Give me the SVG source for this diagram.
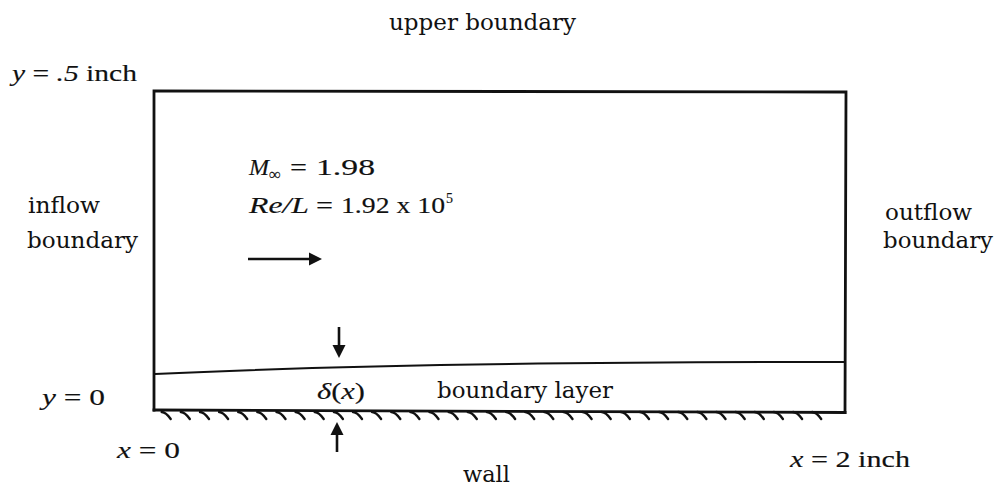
<svg xmlns="http://www.w3.org/2000/svg" width="1005" height="491" viewBox="0 0 1005 491">
<style>
.lbl{font-family:"DejaVu Serif","Liberation Serif",serif;font-size:21.5px;fill:#111}
.math{font-family:"Liberation Serif","DejaVu Serif",serif;font-size:24px;fill:#111;stroke:#111;stroke-width:0.15}
.it{font-style:italic}
.ln{fill:none;stroke:#111;stroke-width:2.8;stroke-linecap:square}
.thin{fill:none;stroke:#111;stroke-width:2}
.tick{fill:none;stroke:#111;stroke-width:2.4;stroke-linecap:round}
.arr{fill:none;stroke:#111;stroke-width:2.6}
</style>
<defs>
<marker id="head" markerUnits="userSpaceOnUse" markerWidth="14" markerHeight="14" refX="0" refY="7" orient="auto">
<path d="M0,0.5 L13,7 L0,13.5 Z" fill="#111"/>
</marker>
<path id="tk" d="M-5,412 Q-1,412 4,419" class="tick"/>
</defs>
<rect width="1005" height="491" fill="#fff"/>

<g id="domain">
<path class="ln" d="M154,410 L154,91 L846,92 L845,412.5"/>
</g>

<g id="boundary-layer">
<path class="thin" d="M155,374 C300,367 500,362 845,362"/>
</g>

<g id="wall">
<path class="ln" d="M154,410 L845,412.5"/>
<g id="hatch">
<use href="#tk" x="166.7"/><use href="#tk" x="185.8"/><use href="#tk" x="205"/><use href="#tk" x="224.1"/><use href="#tk" x="243.2"/>
<use href="#tk" x="262.3"/><use href="#tk" x="281.5"/><use href="#tk" x="300.6"/><use href="#tk" x="319.7"/><use href="#tk" x="338.9"/>
<use href="#tk" x="358"/><use href="#tk" x="377.1"/><use href="#tk" x="396.3"/><use href="#tk" x="415.4"/><use href="#tk" x="434.5"/>
<use href="#tk" x="453.7"/><use href="#tk" x="472.8"/><use href="#tk" x="491.9"/><use href="#tk" x="511.1"/><use href="#tk" x="530.2"/>
<use href="#tk" x="549.3"/><use href="#tk" x="568.5"/><use href="#tk" x="587.6"/><use href="#tk" x="606.7"/><use href="#tk" x="625.9"/>
<use href="#tk" x="645"/><use href="#tk" x="664.1"/><use href="#tk" x="683.3"/><use href="#tk" x="702.4"/><use href="#tk" x="721.5"/>
<use href="#tk" x="740.7"/><use href="#tk" x="759.8"/><use href="#tk" x="778.9"/><use href="#tk" x="798.1"/><use href="#tk" x="817.2"/>
</g>
</g>

<g id="connectors">
<line class="arr" x1="248" y1="259" x2="309" y2="259" marker-end="url(#head)"/>
<line class="arr" x1="339" y1="327" x2="339" y2="345" marker-end="url(#head)"/>
<line class="arr" x1="337" y1="452" x2="337" y2="435" marker-end="url(#head)"/>
</g>

<g id="labels">
<text class="lbl" x="389" y="30" textLength="187" lengthAdjust="spacingAndGlyphs">upper boundary</text>
<text class="lbl" x="28" y="213" textLength="72" lengthAdjust="spacingAndGlyphs">inflow</text>
<text class="lbl" x="27" y="248" textLength="111" lengthAdjust="spacingAndGlyphs">boundary</text>
<text class="lbl" x="885" y="220" textLength="87" lengthAdjust="spacingAndGlyphs">outflow</text>
<text class="lbl" x="883" y="248" textLength="110" lengthAdjust="spacingAndGlyphs">boundary</text>
<text class="lbl" x="437" y="398" textLength="176" lengthAdjust="spacingAndGlyphs">boundary layer</text>
<text class="lbl" x="463" y="482" textLength="47" lengthAdjust="spacingAndGlyphs">wall</text>
</g>

<g id="math">
<text class="math" x="12" y="81" textLength="125" lengthAdjust="spacingAndGlyphs"><tspan class="it">y</tspan> = <tspan class="it">.5</tspan> inch</text>
<text class="math" x="42" y="405" textLength="63" lengthAdjust="spacingAndGlyphs"><tspan class="it">y</tspan> = 0</text>
<text class="math" x="117" y="458" textLength="63" lengthAdjust="spacingAndGlyphs"><tspan class="it">x</tspan> = 0</text>
<text class="math" x="790" y="467" textLength="120" lengthAdjust="spacingAndGlyphs"><tspan class="it">x</tspan> = 2 inch</text>
<text class="math" x="317" y="399" textLength="48" lengthAdjust="spacingAndGlyphs"><tspan class="it">δ</tspan>(<tspan class="it">x</tspan>)</text>
<text class="math it" x="249" y="175">M</text>
<text class="math" x="269" y="180" style="font-size:17px">∞</text>
<text class="math" x="290" y="175" textLength="17" lengthAdjust="spacingAndGlyphs">=</text>
<text class="math" x="316" y="175" textLength="59" lengthAdjust="spacingAndGlyphs">1.98</text>
<text class="math it" x="249" y="213" textLength="60" lengthAdjust="spacingAndGlyphs">Re/L</text>
<text class="math" x="316" y="213" textLength="17" lengthAdjust="spacingAndGlyphs">=</text>
<text class="math" x="341" y="213" textLength="104" lengthAdjust="spacingAndGlyphs">1.92 x 10</text>
<text class="math" x="446" y="203" style="font-size:14px">5</text>
</g>
</svg>
